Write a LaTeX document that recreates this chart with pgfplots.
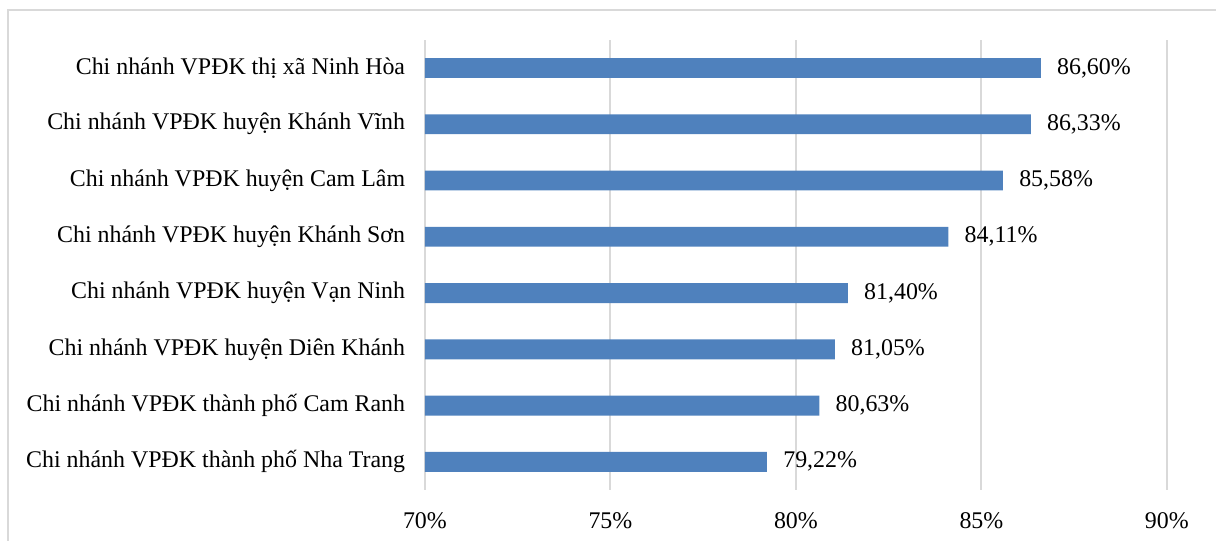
\documentclass[border=0pt]{standalone}
\usepackage{fontspec}
\setmainfont{Liberation Serif}
\usepackage{pgfplots}
\pgfplotsset{compat=1.18}
\definecolor{barblue}{HTML}{4F81BD}
\definecolor{gridgray}{HTML}{D9D9D9}
\newcommand{\chartfont}{\fontsize{12bp}{14bp}\selectfont}
\begin{document}
\begin{tikzpicture}
  % page frame, cropped at right and bottom like the reference
  \path[use as bounding box] (-213.35bp,-25.5bp) rectangle (397.15bp,246bp);
  \draw[gridgray, line width=1bp] (-209.35bp,-60bp) -- (-209.35bp,241bp) -- (420bp,241bp);
  \begin{axis}[
      at={(0,0)}, anchor=south west,
      scale only axis,
      width=372.5bp, height=226bp,
      xbar, bar width=10bp,
      xmin=70, xmax=90,
      ymin=-0.5, ymax=7.5,
      xtick={70,75,80,85,90},
      xticklabels={70\%,75\%,80\%,85\%,90\%},
      ytick={0,1,2,3,4,5,6,7},
      yticklabels={
        Chi nhánh VPĐK thành phố Nha Trang,
        Chi nhánh VPĐK thành phố Cam Ranh,
        Chi nhánh VPĐK huyện Diên Khánh,
        Chi nhánh VPĐK huyện Vạn Ninh,
        Chi nhánh VPĐK huyện Khánh Sơn,
        Chi nhánh VPĐK huyện Cam Lâm,
        Chi nhánh VPĐK huyện Khánh Vĩnh,
        Chi nhánh VPĐK thị xã Ninh Hòa},
      axis line style={draw=none},
      major tick style={draw=none},
      xmajorgrids, grid style={gridgray, line width=1bp},
      xticklabel style={font=\chartfont, inner sep=0pt, anchor=base, yshift=-19.5bp},
      yticklabel style={font=\chartfont, inner sep=0pt, anchor=east, xshift=-5.5bp},
      point meta=explicit symbolic,
      nodes near coords,
      nodes near coords style={font=\chartfont, inner sep=0pt, anchor=west, xshift=8bp},
    ]
    \addplot[fill=barblue, draw=none] coordinates {
      (79.22,0) [79,22\%]
      (80.63,1) [80,63\%]
      (81.05,2) [81,05\%]
      (81.40,3) [81,40\%]
      (84.11,4) [84,11\%]
      (85.58,5) [85,58\%]
      (86.33,6) [86,33\%]
      (86.60,7) [86,60\%]
    };
  \end{axis}
\end{tikzpicture}
\end{document}
